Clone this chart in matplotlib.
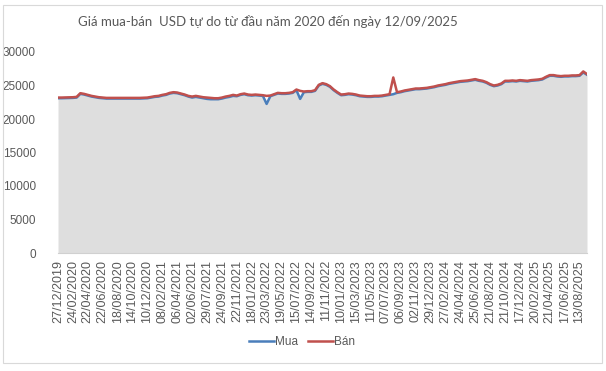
import matplotlib
matplotlib.use("Agg")
import matplotlib.pyplot as plt
from matplotlib.patches import Rectangle
import numpy as np

title = "Giá mua-bán  USD tự do từ đầu năm 2020 đến ngày 12/09/2025"

tick_labels = [
    "27/12/2019", "24/02/2020", "22/04/2020", "22/06/2020", "18/08/2020", "14/10/2020",
    "10/12/2020", "08/02/2021", "06/04/2021", "02/06/2021", "29/07/2021", "24/09/2021",
    "22/11/2021", "18/01/2022", "23/03/2022", "19/05/2022", "15/07/2022", "14/09/2022",
    "11/11/2022", "10/01/2023", "15/03/2023", "11/05/2023", "07/07/2023", "06/09/2023",
    "02/11/2023", "29/12/2023", "27/02/2024", "24/04/2024", "25/06/2024", "21/08/2024",
    "21/10/2024", "17/12/2024", "20/02/2025", "21/04/2025", "17/06/2025", "13/08/2025",
]

ban = [
    23200, 23200, 23220, 23230,
    23250, 23300, 23850, 23750,
    23600, 23450, 23350, 23250,
    23200, 23150, 23150, 23150,
    23150, 23150, 23150, 23150,
    23150, 23150, 23150, 23180,
    23200, 23300, 23400, 23450,
    23600, 23700, 23900, 24000,
    23950, 23800, 23650, 23450,
    23350, 23450, 23350, 23250,
    23200, 23150, 23100, 23100,
    23200, 23350, 23450, 23600,
    23500, 23700, 23800, 23650,
    23600, 23650, 23600, 23550,
    23450, 23500, 23700, 23900,
    23850, 23850, 23900, 24000,
    24400, 24200, 24100, 24150,
    24150, 24300, 25100, 25350,
    25200, 24900, 24400, 24000,
    23650, 23700, 23800, 23750,
    23650, 23500, 23450, 23400,
    23400, 23450, 23450, 23500,
    23600, 23700, 26200, 24000,
    24100, 24250, 24350, 24450,
    24550, 24550, 24600, 24650,
    24750, 24850, 25000, 25100,
    25200, 25350, 25450, 25550,
    25650, 25700, 25750, 25850,
    25950, 25800, 25700, 25500,
    25200, 25000, 25100, 25300,
    25700, 25700, 25750, 25700,
    25800, 25750, 25700, 25800,
    25850, 25900, 26000, 26300,
    26550, 26550, 26450, 26400,
    26450, 26450, 26500, 26500,
    26550, 27100, 26700,
]

mua = [
    23100, 23100, 23120, 23130,
    23150, 23200, 23750, 23650,
    23500, 23350, 23250, 23150,
    23100, 23050, 23050, 23050,
    23050, 23050, 23050, 23050,
    23050, 23050, 23050, 23080,
    23100, 23200, 23300, 23350,
    23500, 23600, 23800, 23900,
    23850, 23700, 23550, 23350,
    23200, 23300, 23200, 23100,
    23000, 22950, 22950, 22950,
    23050, 23200, 23300, 23450,
    23400, 23600, 23700, 23550,
    23500, 23550, 23500, 23450,
    22250, 23400, 23600, 23800,
    23750, 23750, 23800, 23900,
    24300, 23000, 24000, 24050,
    24050, 24200, 25000, 25250,
    25100, 24800, 24300, 23900,
    23550, 23600, 23700, 23650,
    23550, 23400, 23350, 23300,
    23300, 23350, 23350, 23400,
    23500, 23600, 23700, 23900,
    24000, 24150, 24250, 24350,
    24450, 24450, 24500, 24550,
    24650, 24750, 24900, 25000,
    25100, 25250, 25350, 25450,
    25550, 25600, 25650, 25750,
    25850, 25700, 25600, 25400,
    25100, 24900, 25000, 25200,
    25600, 25600, 25650, 25600,
    25700, 25650, 25600, 25700,
    25750, 25800, 25900, 26200,
    26450, 26450, 26350, 26300,
    26350, 26350, 26400, 26400,
    26450, 26950, 26600,
]

y_ticks = [0, 5000, 10000, 15000, 20000, 25000, 30000]

W, H = 606, 371
fig = plt.figure(figsize=(W / 100, H / 100), dpi=100)
fig.patch.set_facecolor("white")

# outer chart border
fig.patches.append(Rectangle((3 / W, 1 - 363 / H), 599 / W, 358 / H,
                             transform=fig.transFigure, fill=False,
                             edgecolor="#d9d9d9", linewidth=0.8))

ax = fig.add_axes([58 / W, 1 - 253 / H, 529 / W, 201 / H])
x = np.arange(len(ban))
ax.fill_between(x, 0, mua, color="#dedede", linewidth=0, zorder=1)
ax.plot(x, mua, color="#4a7ebb", linewidth=1.8, label="Mua", zorder=3,
        solid_joinstyle="round")
ax.plot(x, ban, color="#c0504d", linewidth=1.8, label="Bán", zorder=4,
        solid_joinstyle="round")

ax.set_xlim(0, len(ban) - 1)
ax.set_ylim(0, 30000)
ax.set_yticks(y_ticks)
ax.set_yticklabels([str(v) for v in y_ticks], fontsize=8.5, color="#595959",
                   family="Liberation Sans")
ax.set_xticks(np.arange(0, len(ban), 4)[:len(tick_labels)])
ax.set_xticklabels(tick_labels, rotation=90, fontsize=9, color="#595959",
                   family="Liberation Sans")
ax.tick_params(axis="both", length=0, pad=5)
ax.tick_params(axis="y", pad=16)
for s in ["top", "right", "left"]:
    ax.spines[s].set_visible(False)
ax.spines["bottom"].set_color("#d0d0d0")
ax.spines["bottom"].set_linewidth(0.8)
ax.set_facecolor("white")

fig.text(268 / W, 1 - 22 / H, title, ha="center", va="center", fontsize=9.5,
         color="#595959", family="Lato")

leg = fig.legend(loc="center", bbox_to_anchor=(302 / W, 1 - 342 / H), ncol=2,
                 frameon=False, handlelength=2.1, handletextpad=0.1,
                 columnspacing=0.9, prop={"family": "Liberation Sans", "size": 8.5})
for t in leg.get_texts():
    t.set_color("#595959")

fig.savefig("out.png", dpi=100, facecolor="white")
